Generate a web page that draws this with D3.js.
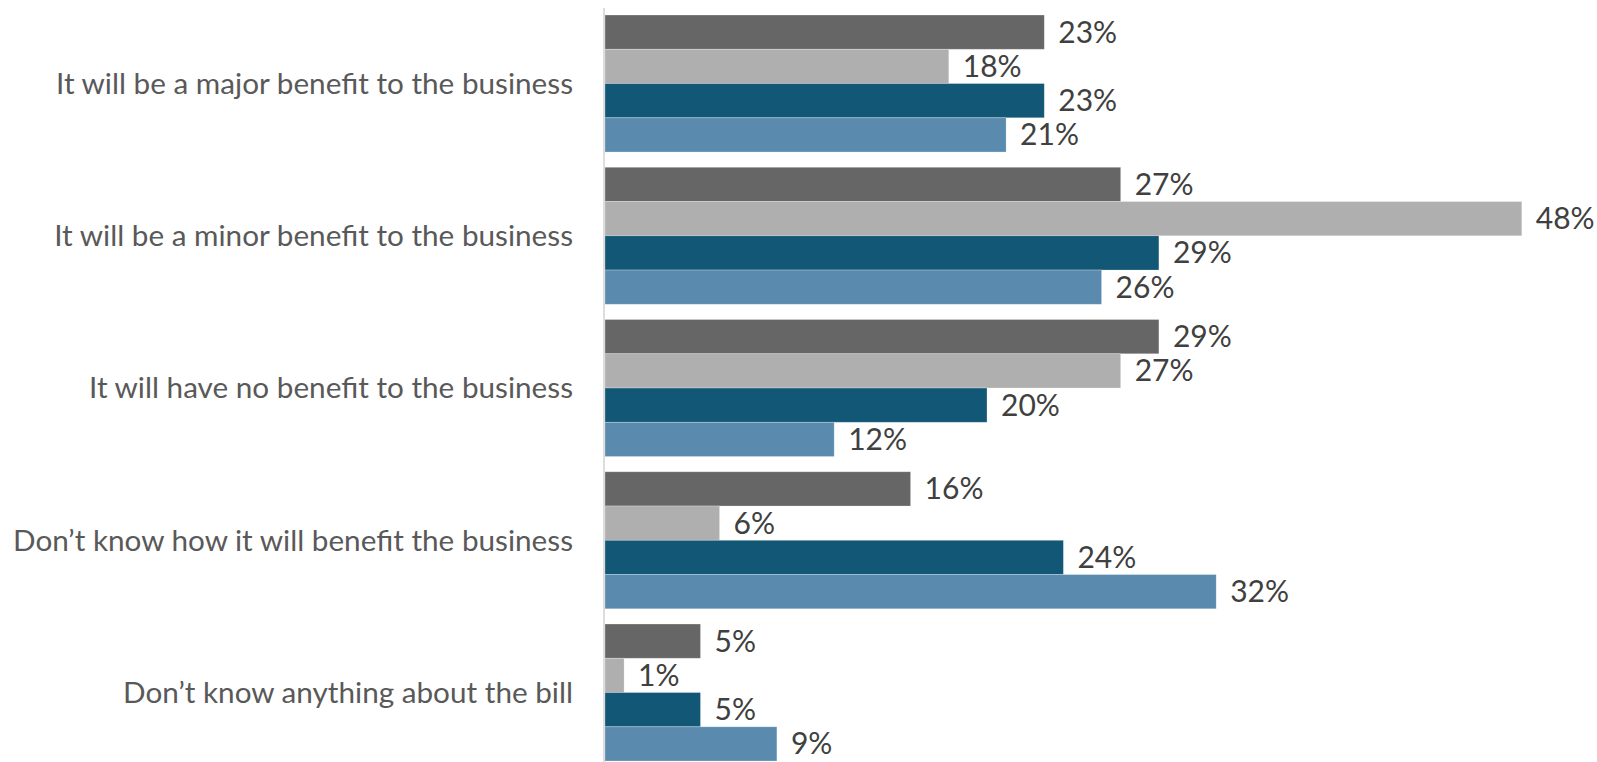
<!DOCTYPE html>
<html>
<head>
<meta charset="utf-8">
<script src="https://cdn.jsdelivr.net/npm/d3@7"></script>
<style>
  html, body { margin: 0; padding: 0; background: #ffffff; }
  svg { display: block; }
  text { font-family: Lato, "Open Sans", sans-serif; }
</style>
</head>
<body>
<svg id="chart" width="1597" height="762"></svg>
<script>
// Survey responses: perceived benefit of the bill to the business (percent)
const categories = [
  "It will be a major benefit to the business",
  "It will be a minor benefit to the business",
  "It will have no benefit to the business",
  "Don\u2019t know how it will benefit the business",
  "Don\u2019t know anything about the bill"
];
const seriesNames = ["Series A", "Series B", "Series C", "Series D"];
const seriesA = [23, 27, 29, 16, 5];
const seriesB = [18, 48, 27, 6, 1];
const seriesC = [23, 29, 20, 24, 5];
const seriesD = [21, 26, 12, 32, 9];
const seriesColors = ["#666666", "#afafaf", "#135776", "#5a8baf"];

const allSeries = [seriesA, seriesB, seriesC, seriesD];
const rows = categories.map((c, i) => ({
  category: c,
  values: allSeries.map((s, j) => ({ key: seriesNames[j], value: s[i], color: seriesColors[j] }))
}));

const svg = d3.select("#chart");

const x = d3.scaleLinear().domain([0, 50]).range([605, 1560]);
const y = d3.scaleBand()
  .domain(categories)
  .range([7.4, 768.65])
  .paddingInner(0.1)
  .paddingOuter(0.05);
const ySub = d3.scaleBand()
  .domain(seriesNames)
  .range([0, y.bandwidth()])
  .padding(0);

const groups = svg.append("g")
  .selectAll("g")
  .data(rows)
  .join("g")
  .attr("transform", d => `translate(0,${y(d.category)})`);

groups.selectAll("rect")
  .data(d => d.values)
  .join("rect")
  .attr("x", x(0))
  .attr("y", d => ySub(d.key))
  .attr("width", d => x(d.value) - x(0))
  .attr("height", ySub.bandwidth())
  .attr("fill", d => d.color)
  .attr("stroke", "#ffffff")
  .attr("stroke-opacity", 0.35)
  .attr("stroke-width", 0.75);

groups.selectAll("text.value")
  .data(d => d.values)
  .join("text")
  .attr("class", "value")
  .attr("x", d => x(d.value) + 14)
  .attr("y", d => ySub(d.key) + ySub.bandwidth() / 2)
  .attr("dy", "0.35em")
  .attr("fill", "#404040")
  .attr("font-size", 30)
  .text(d => d.value + "%");

// Category axis on the left, without ticks
const yAxis = d3.axisLeft(y).tickSize(0).tickPadding(31);
const axisG = svg.append("g")
  .attr("transform", `translate(${x(0) - 1},0)`)
  .call(yAxis);
axisG.select(".domain")
  .attr("stroke", "#d9d9d9")
  .attr("stroke-width", 1.75)
  .attr("d", "M0,8V762");
axisG.selectAll(".tick text")
  .attr("fill", "#595959")
  .attr("font-size", 29.7)
  .attr("font-family", "Lato, 'Open Sans', sans-serif")
  .attr("dy", "0.35em");
</script>
</body>
</html>
